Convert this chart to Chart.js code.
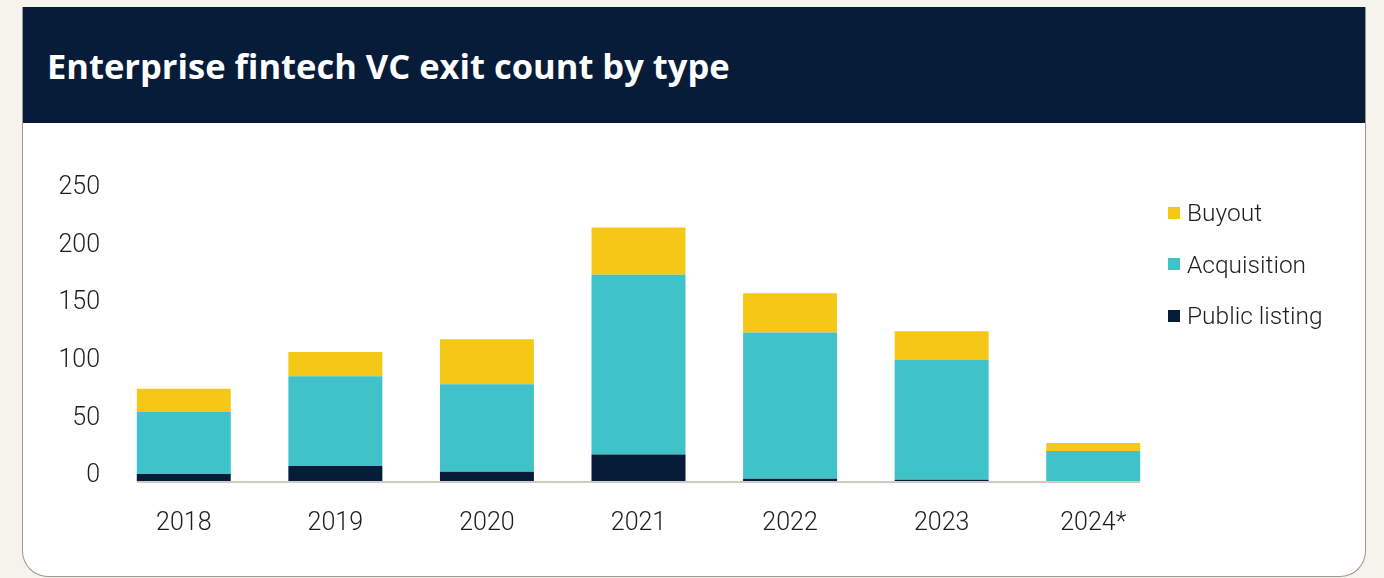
<!DOCTYPE html>
<html>
<head>
<meta charset="utf-8">
<script src="https://cdn.jsdelivr.net/npm/chart.js@4/dist/chart.umd.min.js"></script>
<style>
  html, body { margin: 0; padding: 0; }
  body { width: 1384px; height: 578px; background: #f6f3ec; position: relative; overflow: hidden; font-family: Roboto, 'Open Sans', sans-serif; }
  .card { position: absolute; left: 22px; top: 7px; width: 1342px; height: 569px; background: #fff; border: 1px solid #9b968f; border-top: none; border-radius: 0 0 26px 26px; overflow: hidden; }
  .head { position: absolute; left: 0; top: 0; right: 0; height: 116px; background: #061c38; }
  .head h1 { margin: 0; position: absolute; left: 24px; top: 36px; color: #fff; font: 700 34.5px 'Open Sans', sans-serif; line-height: 46px; }
  #wrap { position: absolute; left: 0; top: 117px; width: 1342px; height: 454px; }
  .legend { position: absolute; left: 1145px; top: 180px; }
  .legend div { height: 51.5px; display: flex; align-items: center; color: #1e1e1e; font-size: 24.5px; font-weight: 300; }
  .legend span.sw { width: 12px; height: 12px; margin-right: 7px; flex: none; }
</style>
</head>
<body>
<div class="card">
  <div class="head"><h1>Enterprise fintech VC exit count by type</h1></div>
  <div id="wrap"><canvas id="c" width="1342" height="454"></canvas></div>
  <div class="legend" id="legend"></div>
</div>
<script>
const years = ['2018', '2019', '2020', '2021', '2022', '2023', '2024*'];
const publicListing = [6, 13, 8, 23, 2, 1, 0];
const acquisition = [54, 78, 76, 156, 127, 104, 26];
const buyout = [20, 21, 39, 41, 34, 25, 7];
const yTicks = [0, 50, 100, 150, 200, 250];

const NAVY = '#061c38', TEAL = '#40c3c8', GOLD = '#f5c817';
const TXT = '#1e1e1e';
const tickFont = { family: "Roboto, 'Open Sans', sans-serif", size: 25, weight: 300 };

const datasets = [
  { label: 'Public listing', data: publicListing, backgroundColor: NAVY },
  { label: 'Acquisition', data: acquisition, backgroundColor: TEAL },
  { label: 'Buyout', data: buyout, backgroundColor: GOLD },
].map(d => Object.assign(d, { barPercentage: 0.62, categoryPercentage: 1, borderWidth: 0 }));

// baseline only under the bars, like the original
const baseline = {
  id: 'baseline',
  beforeDatasetsDraw(chart) {
    const bars = chart.getDatasetMeta(0).data;
    if (!bars.length) return;
    const first = bars[0], last = bars[bars.length - 1];
    const y = chart.scales.y.getPixelForValue(0) + 1;
    const ctx = chart.ctx;
    ctx.save();
    ctx.strokeStyle = '#cfcbc4';
    ctx.lineWidth = 2;
    ctx.beginPath();
    ctx.moveTo(first.x - first.width / 2, y);
    ctx.lineTo(last.x + last.width / 2, y);
    ctx.stroke();
    ctx.restore();
  }
};

new Chart(document.getElementById('c'), {
  type: 'bar',
  data: { labels: years, datasets },
  plugins: [baseline],
  options: {
    responsive: false,
    animation: false,
    layout: { padding: { left: 0, top: 69, right: 196, bottom: 0 } },
    plugins: { legend: { display: false }, tooltip: { enabled: false } },
    scales: {
      x: {
        stacked: true,
        grid: { display: false },
        border: { display: false },
        ticks: { color: TXT, font: tickFont, padding: 20, maxRotation: 0 },
        afterFit: (s) => { s.height = 97; },
      },
      y: {
        stacked: true,
        min: 0, max: 250,
        grid: { display: false },
        border: { display: false },
        afterBuildTicks: (s) => { s.ticks = yTicks.map(v => ({ value: v })); },
        ticks: { color: TXT, font: tickFont, padding: 0, labelOffset: -5 },
        afterFit: (s) => { s.width = 85; },
      },
    },
  },
});

// legend, top to bottom in reverse stacking order
const leg = document.getElementById('legend');
datasets.slice().reverse().forEach(d => {
  const row = document.createElement('div');
  row.innerHTML = `<span class="sw" style="background:${d.backgroundColor}"></span>${d.label}`;
  leg.appendChild(row);
});
</script>
</body>
</html>
